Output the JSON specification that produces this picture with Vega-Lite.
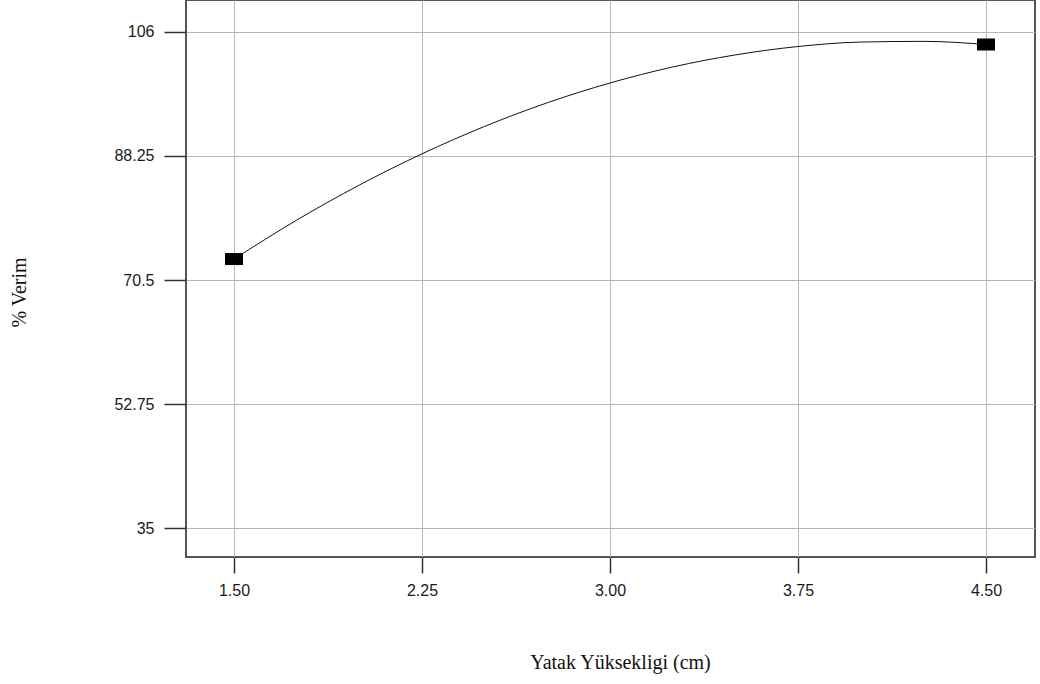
{
  "$schema": "https://vega.github.io/schema/vega-lite/v6.json",
  "autosize": "none",
  "width": 849,
  "height": 557,
  "padding": {"left": 186, "top": 0, "right": 5, "bottom": 127},
  "background": "white",
  "config": {
    "view": {"stroke": "#555555", "strokeWidth": 2},
    "axis": {
      "domain": false,
      "grid": true,
      "gridColor": "#b8b8b8",
      "gridWidth": 1,
      "tickColor": "#333333",
      "tickWidth": 1.5,
      "labelFont": "Liberation Sans",
      "labelFontSize": 16,
      "labelColor": "#1a1a1a",
      "titleFont": "Liberation Serif",
      "titleFontSize": 20,
      "titleFontWeight": "normal",
      "titleColor": "#111111"
    }
  },
  "datasets": {
    "curve": [
      {"height": 1.5, "yield": 73.5},
      {"height": 1.75, "yield": 79.07},
      {"height": 2.0, "yield": 84.09},
      {"height": 2.25, "yield": 88.56},
      {"height": 2.5, "yield": 92.49},
      {"height": 2.75, "yield": 95.87},
      {"height": 3.0, "yield": 98.7},
      {"height": 3.25, "yield": 100.99},
      {"height": 3.5, "yield": 102.72},
      {"height": 3.75, "yield": 103.92},
      {"height": 4.0, "yield": 104.56},
      {"height": 4.25, "yield": 104.66},
      {"height": 4.5, "yield": 104.21}
    ],
    "design": [
      {"height": 1.5, "yield": 73.5},
      {"height": 4.5, "yield": 104.21}
    ]
  },
  "encoding": {
    "x": {
      "field": "height",
      "type": "quantitative",
      "scale": {"domain": [1.3085, 4.6955], "nice": false, "zero": false},
      "axis": {
        "values": [1.5, 2.25, 3.0, 3.75, 4.5],
        "format": ".2f",
        "tickSize": 16,
        "labelPadding": 9,
        "title": "Yatak Yüksekligi (cm)",
        "titleAnchor": "start",
        "titleAlign": "center",
        "titleBaseline": "middle",
        "titleX": 434,
        "titleY": 105
      }
    },
    "y": {
      "field": "yield",
      "type": "quantitative",
      "scale": {"domain": [30.85, 110.58], "nice": false, "zero": false},
      "axis": {
        "values": [35, 52.75, 70.5, 88.25, 106],
        "format": ".4~g",
        "tickSize": 22,
        "labelPadding": 10,
        "title": "% Verim",
        "titleAlign": "center",
        "titleBaseline": "middle",
        "titleAngle": -90,
        "titleX": -167,
        "titleY": 292
      }
    }
  },
  "layer": [
    {
      "data": {"name": "curve"},
      "mark": {"type": "line", "color": "#111111", "strokeWidth": 1, "interpolate": "monotone"}
    },
    {
      "data": {"name": "design"},
      "mark": {
        "type": "point",
        "shape": "M-1,-0.667L1,-0.667L1,0.667L-1,0.667Z",
        "size": 324,
        "filled": true,
        "color": "#000000",
        "opacity": 1
      }
    }
  ]
}
